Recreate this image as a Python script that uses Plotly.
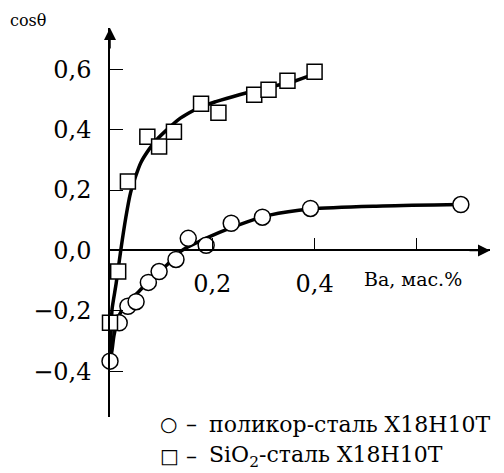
import plotly.graph_objects as go

# --- data ---
circ_x = [0.0, 0.018, 0.035, 0.051, 0.075, 0.096, 0.129, 0.153, 0.188, 0.237, 0.298, 0.392, 0.686]
circ_y = [-0.367, -0.24, -0.185, -0.17, -0.106, -0.07, -0.03, 0.04, 0.017, 0.09, 0.11, 0.139, 0.152]

sq_x = [0.0, 0.016, 0.035, 0.073, 0.096, 0.125, 0.178, 0.212, 0.282, 0.310, 0.347, 0.400]
sq_y = [-0.24, -0.07, 0.228, 0.377, 0.344, 0.393, 0.486, 0.456, 0.516, 0.532, 0.562, 0.592]

circ_fit_x = [0.0, 0.004, 0.008, 0.018, 0.037, 0.057, 0.086, 0.11, 0.141, 0.175, 0.214, 0.267, 0.312, 0.392, 0.533, 0.686]
circ_fit_y = [-0.367, -0.33, -0.28, -0.215, -0.168, -0.135, -0.085, -0.05, 0.0, 0.03, 0.06, 0.094, 0.117, 0.137, 0.147, 0.152]

sq_fit_x = [0.0, 0.002, 0.004, 0.012, 0.021, 0.031, 0.040, 0.050, 0.060, 0.076, 0.093, 0.135, 0.175, 0.207, 0.253, 0.306, 0.357, 0.400]
sq_fit_y = [-0.36, -0.28, -0.195, -0.11, 0.0, 0.11, 0.19, 0.245, 0.29, 0.334, 0.37, 0.435, 0.474, 0.493, 0.516, 0.539, 0.559, 0.585]

y_ticks = [-0.4, -0.2, 0.0, 0.2, 0.4, 0.6]
y_ticktext = ["\u22120,4", "\u22120,2", "0,0", "0,2", "0,4", "0,6"]
x_ticks = [0.2, 0.4, 0.6]
x_ticktext = ["0,2", "0,4", ""]

x_range = [0.0, 0.743]
y_range = [-0.552, 0.737]

legend_symbols = ["\u25cb", "\u25a1"]
legend_texts = ["поликор-сталь Х18Н10Т", "SiO<sub>2</sub>-сталь Х18Н10Т"]
x_title = "Ba, мас.%"
y_title = "cos\u03b8"

FONT = "DejaVu Serif"

# page body has an 8px margin: figure is drawn offset by (8, 8)
OFF = 8
W, H = 504 - OFF, 473 - OFF
ML, MR, MT, MB = 110 - OFF, 14, 28 - OFF, 56

fig = go.Figure()
fig.add_trace(go.Scatter(x=circ_fit_x, y=circ_fit_y, mode="lines",
                         line=dict(color="black", width=3.5, shape="spline", smoothing=0.8),
                         cliponaxis=False, hoverinfo="skip"))
fig.add_trace(go.Scatter(x=sq_fit_x, y=sq_fit_y, mode="lines",
                         line=dict(color="black", width=3.5, shape="spline", smoothing=0.6),
                         cliponaxis=False, hoverinfo="skip"))
fig.add_trace(go.Scatter(x=circ_x, y=circ_y, mode="markers",
                         marker=dict(symbol="circle", size=16, color="white",
                                     line=dict(color="black", width=1.5)),
                         cliponaxis=False))
fig.add_trace(go.Scatter(x=sq_x, y=sq_y, mode="markers",
                         marker=dict(symbol="square", size=15, color="white",
                                     line=dict(color="black", width=1.5)),
                         cliponaxis=False))

y0_frac = (0 - y_range[0]) / (y_range[1] - y_range[0])

fig.update_layout(
    width=W, height=H,
    margin=dict(l=ML, r=MR, t=MT, b=MB, autoexpand=False),
    paper_bgcolor="white", plot_bgcolor="white",
    showlegend=False,
    font=dict(family=FONT, color="black"),
    xaxis=dict(range=x_range, showgrid=False, zeroline=False, automargin=False,
               showline=True, linecolor="black", linewidth=1.5,
               anchor="free", position=y0_frac,
               ticks="inside", ticklen=12, tickwidth=1.2, tickcolor="black",
               tickvals=x_ticks, ticktext=x_ticktext,
               ticklabelstandoff=12,
               tickfont=dict(family=FONT, size=24, color="black")),
    yaxis=dict(range=y_range, showgrid=False, zeroline=False, automargin=False,
               showline=True, linecolor="black", linewidth=1.5,
               ticks="inside", ticklen=13, tickwidth=1.2, tickcolor="black",
               tickvals=y_ticks, ticktext=y_ticktext,
               ticklabelstandoff=12,
               tickfont=dict(family=FONT, size=24, color="black")),
)

# axis arrows
fig.add_annotation(x=0, y=y_range[1], xref="x", yref="y", ax=0, ay=22,
                   showarrow=True, arrowhead=2, arrowsize=1.6, arrowwidth=1.5,
                   arrowcolor="black", text="")
fig.add_annotation(x=x_range[1], y=0, xref="x", yref="y", ax=-22, ay=0,
                   showarrow=True, arrowhead=2, arrowsize=1.6, arrowwidth=1.5,
                   arrowcolor="black", text="")

plot_w = W - ML - MR
plot_h = H - MT - MB
def px_to_paper(px, py):
    # px, py are window pixel coordinates
    return (px - OFF - ML) / plot_w, (H - MB - (py - OFF)) / plot_h

# titles
fig.add_annotation(x=0.492, y=-0.096, xref="x", yref="y", text=x_title, showarrow=False,
                   xanchor="left", yanchor="middle", font=dict(family=FONT, size=19, color="black"))
xp, yp = px_to_paper(8, 20)
fig.add_annotation(x=xp, y=yp, xref="paper", yref="paper", text=y_title, showarrow=False,
                   xanchor="left", yanchor="middle", font=dict(family=FONT, size=16, color="black"))

# legend lines: symbol, dash, text
for i in range(2):
    yc = 424 + 32 * i
    xp, yp = px_to_paper(158, yc)
    fig.add_annotation(x=xp, y=yp, xref="paper", yref="paper", text=legend_symbols[i], showarrow=False,
                       xanchor="left", yanchor="middle", font=dict(family="DejaVu Sans", size=20, color="black"))
    xp, yp = px_to_paper(184, yc)
    fig.add_annotation(x=xp, y=yp, xref="paper", yref="paper", text="\u2013", showarrow=False,
                       xanchor="left", yanchor="middle", font=dict(family=FONT, size=22, color="black"))
    xp, yp = px_to_paper(207, yc)
    fig.add_annotation(x=xp, y=yp, xref="paper", yref="paper", text=legend_texts[i], showarrow=False,
                       xanchor="left", yanchor="middle", font=dict(family=FONT, size=22, color="black"))

fig.write_html("out.html")
